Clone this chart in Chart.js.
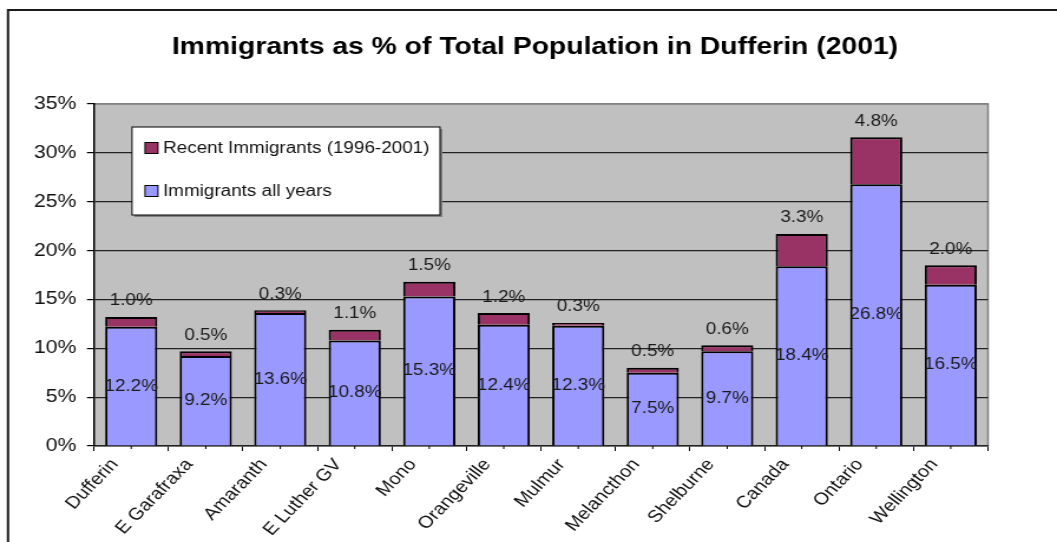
<!DOCTYPE html>
<html>
<head>
<meta charset="utf-8">
<script src="https://cdn.jsdelivr.net/npm/chart.js@4.4.1/dist/chart.umd.min.js"></script>
<style>
    html, body { margin: 0; padding: 0; background: #fff; overflow: hidden; }
    #wrap { width: 1057px; height: 542px; position: relative; }
    #immChart { position: absolute; left: 0; top: 0; transform-origin: 0 0; }
</style>
</head>
<body>
<div id="wrap"><canvas id="immChart"></canvas></div>
<script>
const categories = ['Dufferin', 'E Garafraxa', 'Amaranth', 'E Luther GV', 'Mono', 'Orangeville',
    'Mulmur', 'Melancthon', 'Shelburne', 'Canada', 'Ontario', 'Wellington'];
const allYears = [12.2, 9.2, 13.6, 10.8, 15.3, 12.4, 12.3, 7.5, 9.7, 18.4, 26.8, 16.5];
const recent = [1.0, 0.5, 0.3, 1.1, 1.5, 1.2, 0.3, 0.5, 0.6, 3.3, 4.8, 2.0];
const seriesNames = ['Recent Immigrants (1996-2001)', 'Immigrants all years'];
const titleText = 'Immigrants as % of Total Population in Dufferin (2001)';

// the chart is drawn on a narrower canvas and widened with CSS
const S = 1.18;
const W = Math.round(1057 / S);
const H = 542;
const sx = W / 1057;

const canvas = document.getElementById('immChart');
canvas.width = W;
canvas.height = H;
canvas.style.transform = 'scaleX(' + (1057 / W) + ')';

Chart.defaults.font.family = '"Liberation Sans", Arial, sans-serif';
Chart.defaults.color = '#111';

const plotDecor = {
    id: 'plotDecor',
    beforeDraw(chart) {
        const { ctx, chartArea: a } = chart;
        ctx.save();
        ctx.fillStyle = '#fff';
        ctx.fillRect(0, 0, chart.width, chart.height);
        ctx.fillStyle = '#c0c0c0';
        ctx.fillRect(a.left, a.top, a.right - a.left, a.bottom - a.top);

        // outer frame, runs off the right and bottom
        ctx.strokeStyle = '#1a1a1a';
        ctx.lineWidth = 2;
        ctx.strokeRect(8 * sx, 10, chart.width + 20, chart.height + 20);

        // grey border of the plot on top and right
        ctx.strokeStyle = '#808080';
        ctx.lineWidth = 1.5;
        ctx.beginPath();
        ctx.moveTo(a.left, a.top);
        ctx.lineTo(a.right, a.top);
        ctx.lineTo(a.right, a.bottom);
        ctx.stroke();

        ctx.fillStyle = '#000';
        ctx.font = 'bold 24px "Liberation Sans", Arial, sans-serif';
        ctx.textAlign = 'center';
        ctx.textBaseline = 'middle';
        ctx.fillText(titleText, 535 * sx, 47);
        ctx.restore();
    },
    afterDraw(chart) {
        const { ctx } = chart;
        const xs = chart.scales.x;
        ctx.save();
        // small ticks under each bar centre
        ctx.strokeStyle = '#000';
        ctx.lineWidth = 1;
        categories.forEach((c, i) => {
            const px = xs.getPixelForValue(i);
            ctx.beginPath();
            ctx.moveTo(px, xs.top);
            ctx.lineTo(px, xs.top + 3);
            ctx.stroke();
        });
        ctx.restore();
    },
    afterDatasetsDraw(chart) {
        const { ctx } = chart;
        ctx.save();
        ctx.fillStyle = '#1a1a1a';
        ctx.font = '16px "Liberation Sans", Arial, sans-serif';
        ctx.textAlign = 'center';
        ctx.textBaseline = 'middle';
        chart.getDatasetMeta(0).data.forEach((bar, i) => {
            ctx.fillText(allYears[i].toFixed(1) + '%', bar.x, (bar.y + bar.base) / 2);
        });
        chart.getDatasetMeta(1).data.forEach((bar, i) => {
            ctx.fillText(recent[i].toFixed(1) + '%', bar.x, bar.y - 16);
        });

        // legend box
        const lx = 132 * sx, rx = 440 * sx, ty = 127, by = 215;
        ctx.fillStyle = '#808080';
        ctx.fillRect(lx + 2, ty + 2, rx - lx, by - ty);
        ctx.fillStyle = '#fff';
        ctx.fillRect(lx, ty, rx - lx, by - ty);
        ctx.strokeStyle = '#000';
        ctx.lineWidth = 1;
        ctx.strokeRect(lx, ty, rx - lx, by - ty);

        const rows = [
            { label: seriesNames[0], color: chart.data.datasets[1].backgroundColor, y: 148 },
            { label: seriesNames[1], color: chart.data.datasets[0].backgroundColor, y: 191 }
        ];
        ctx.textAlign = 'left';
        rows.forEach(r => {
            ctx.fillStyle = r.color;
            ctx.fillRect(145 * sx, r.y - 5.5, 11, 11);
            ctx.strokeRect(145 * sx, r.y - 5.5, 11, 11);
            ctx.fillStyle = '#111';
            ctx.fillText(r.label, 163 * sx, r.y + 1);
        });
        ctx.restore();
    }
};

new Chart(canvas, {
    type: 'bar',
    data: {
        labels: categories,
        datasets: [
            {
                label: seriesNames[1],
                data: allYears,
                backgroundColor: '#9999ff',
                borderColor: '#000',
                borderWidth: 2,
                categoryPercentage: 1,
                barPercentage: 0.7
            },
            {
                label: seriesNames[0],
                data: recent,
                backgroundColor: '#993366',
                borderColor: '#000',
                borderWidth: 2,
                categoryPercentage: 1,
                barPercentage: 0.7
            }
        ]
    },
    options: {
        responsive: false,
        animation: false,
        layout: { padding: { top: 104, left: 0, bottom: 0, right: W - 988 * sx } },
        plugins: {
            legend: { display: false },
            tooltip: { enabled: false }
        },
        scales: {
            x: {
                stacked: true,
                afterFit(scale) { scale.height = 96; },
                grid: {
                    offset: true,
                    drawOnChartArea: false,
                    color: '#000',
                    tickLength: 5
                },
                border: { color: '#222', width: 1.5 },
                ticks: {
                    autoSkip: false,
                    maxRotation: 50,
                    minRotation: 50,
                    labelOffset: -14,
                    padding: 4,
                    font: { size: 17 }
                }
            },
            y: {
                stacked: true,
                min: 0,
                max: 35,
                afterFit(scale) { scale.width = 94 * sx; },
                grid: {
                    color: c => (c.tick && c.tick.value === 35 ? '#808080' : '#222'),
                    lineWidth: 1.2,
                    tickColor: '#000',
                    tickLength: 6
                },
                border: { color: '#000', width: 1.5 },
                ticks: {
                    stepSize: 5,
                    padding: 9,
                    font: { size: 18 },
                    callback: v => v + '%'
                }
            }
        }
    },
    plugins: [plotDecor]
});
</script>
</body>
</html>
